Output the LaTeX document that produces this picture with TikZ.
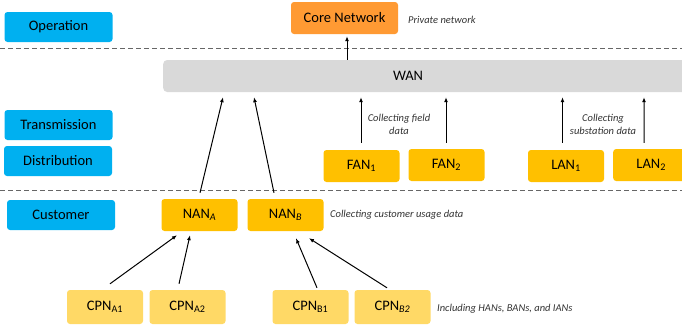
\documentclass[tikz,border=0pt]{standalone}
\usepackage{fontspec}
\setmainfont{Carlito}
\usetikzlibrary{arrows.meta}
\definecolor{layerblue}{HTML}{00B0F0}
\definecolor{coreor}{HTML}{FF9A33}
\definecolor{netyel}{HTML}{FFC000}
\definecolor{cpnyel}{HTML}{FFD966}
\definecolor{wangray}{HTML}{D9D9D9}
\definecolor{notegray}{HTML}{333333}
\tikzset{
  boxfont/.style={font=\fontsize{14.5}{17}\selectfont},
  layer/.style={fill=layerblue, rounded corners=3pt, minimum width=108pt, minimum height=30pt, boxfont, inner sep=0pt},
  netbox/.style={fill=netyel, rounded corners=3pt, minimum width=76pt, minimum height=32pt, boxfont, inner sep=0pt},
  cpnbox/.style={fill=cpnyel, rounded corners=3pt, minimum width=76pt, minimum height=34pt, boxfont, inner sep=0pt},
  note/.style={font=\fontsize{10.5}{13}\selectfont\itshape, text=notegray, inner sep=0pt, align=center},
  arr/.style={-{Latex[length=5pt,width=4pt]}, line width=1pt},
  sep/.style={dashed, dash pattern=on 5pt off 3pt, gray!80!black, line width=0.8pt}
}
\begin{document}
\begin{tikzpicture}[x=1pt,y=-1pt]
\useasboundingbox (0,0) rectangle (682,324);
% layers
\node[layer] (op) at (58.5,27) {Operation};
\node[layer] (tr) at (58.5,125) {Transmission};
\node[layer] (di) at (58,161) {Distribution};
\node[layer] (cu) at (61,215) {Customer};
% separators
\coordinate (s1l) at (0,48); \coordinate (s1r) at (682,48);
\coordinate (s2l) at (0,190); \coordinate (s2r) at (682,190);
\draw[sep] (s1l) -- (s1r);
\draw[sep] (s2l) -- (s2r);
% core
\node[fill=coreor, rounded corners=3pt, minimum width=107pt, minimum height=32pt, boxfont, inner sep=0pt] (core) at (344.5,18) {Core Network};
\node[note, anchor=west] (priv) at (408,20) {Private network};
% WAN
\node[fill=wangray, rounded corners=4pt, minimum width=530pt, minimum height=32pt, inner sep=0pt, anchor=west] (wan) at (163,76) {};
\node[boxfont, inner sep=0pt] (wantxt) at (408,76) {WAN};
% FAN/LAN
\node[netbox] (fan1) at (361.5,166) {FAN\textsubscript{1}};
\node[netbox] (fan2) at (446.5,165) {FAN\textsubscript{2}};
\node[netbox] (lan1) at (566,166) {LAN\textsubscript{1}};
\node[netbox, anchor=west] (lan2) at (613,165) {LAN\textsubscript{2}};
% NAN
\node[netbox] (nana) at (199.5,215) {NAN\textsubscript{\itshape A}};
\node[netbox] (nanb) at (285.5,215) {NAN\textsubscript{\itshape B}};
\node[note, anchor=west] (cust) at (330,215) {Collecting customer usage data};
% CPN
\node[cpnbox] (cpna1) at (105,307) {CPN\textsubscript{A1}};
\node[cpnbox] (cpna2) at (187.5,307) {CPN\textsubscript{A2}};
\node[cpnbox] (cpnb1) at (310.5,307) {CPN\textsubscript{B1}};
\node[cpnbox] (cpnb2) at (392.5,307) {CPN\textsubscript{\itshape B2}};
\node[note, anchor=west] (incl) at (437,309) {Including HANs, BANs, and IANs};
% notes
\node[note] (field) at (399,124) {Collecting field\\data};
\node[note] (subst) at (603,124) {Collecting\\substation data};
% arrows
\draw[arr] ([xshift=184pt]wan.north west) -- ([xshift=2.5pt,yshift=-2pt]core.south);
\draw[arr] ([xshift=0.5pt,yshift=6pt]nana.north) -- ([xshift=60pt,yshift=-5pt]wan.south west);
\draw[arr] ([xshift=-11.5pt,yshift=6pt]nanb.north) -- ([xshift=91pt,yshift=-5pt]wan.south west);
\draw[arr] ([xshift=-0.5pt,yshift=7pt]fan1.north) -- ([xshift=198pt,yshift=-5pt]wan.south west);
\draw[arr] ([xshift=-0.5pt,yshift=6pt]fan2.north) -- ([xshift=283pt,yshift=-5pt]wan.south west);
\draw[arr] ([xshift=-3.5pt,yshift=7pt]lan1.north) -- ([xshift=399.5pt,yshift=-5pt]wan.south west);
\draw[arr] ([xshift=-7pt,yshift=6pt]lan2.north) -- ([xshift=481pt,yshift=-5pt]wan.south west);
\draw[arr] ([xshift=5pt,yshift=6pt]cpna1.north) -- ([xshift=-22.5pt,yshift=-4pt]nana.south);
\draw[arr] ([xshift=-8.5pt,yshift=6pt]cpna2.north) -- ([xshift=-9.5pt,yshift=-4pt]nana.south);
\draw[arr] ([xshift=6.5pt,yshift=2pt]cpnb1.north) -- ([xshift=10.5pt,yshift=-7pt]nanb.south);
\draw[arr] ([xshift=-5.5pt,yshift=2pt]cpnb2.north) -- ([xshift=23.5pt,yshift=-7pt]nanb.south);
\end{tikzpicture}
\end{document}
